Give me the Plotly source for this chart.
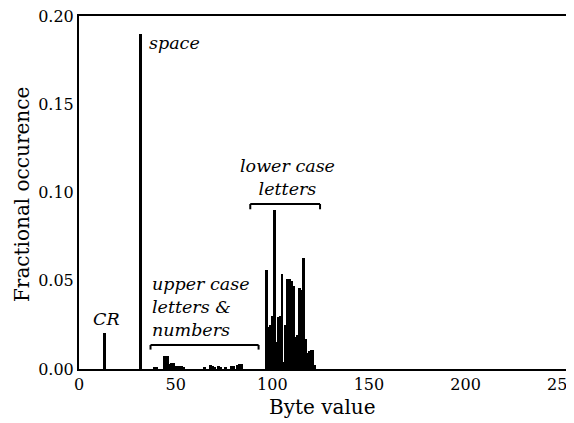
import plotly.graph_objects as go

# Byte values with non-zero occurrence and their fractional occurrence
ctrl_bytes = [13]
ctrl_freq = [0.0202]

space_bytes = [32]
space_freq = [0.190]

upper_bytes = [39, 40, 44, 45, 46, 47, 48, 49, 50, 51, 52, 53, 54,
               65, 68, 69, 70, 72, 73, 76, 79, 80, 82, 83, 84]
upper_freq = [0.0012, 0.0008, 0.0075, 0.0072, 0.0075, 0.0030, 0.0036, 0.0034,
              0.0018, 0.0017, 0.0016, 0.0015, 0.0010,
              0.0012, 0.0020, 0.0015, 0.0012, 0.0015, 0.0012, 0.0008,
              0.0018, 0.0015, 0.0022, 0.0028, 0.0030]

lower_bytes = list(range(97, 123))
lower_freq = [0.056, 0.024, 0.025, 0.030, 0.090, 0.0155, 0.0296, 0.030,
              0.054, 0.004, 0.025, 0.051, 0.051, 0.050, 0.047, 0.018,
              0.019, 0.046, 0.045, 0.063, 0.017, 0.009, 0.010, 0.011,
              0.011, 0.002]

x_ticks = [0, 50, 100, 150, 200, 250]
y_ticks = [0.00, 0.05, 0.10, 0.15, 0.20]

xs = ctrl_bytes + space_bytes + upper_bytes + lower_bytes
ys = ctrl_freq + space_freq + upper_freq + lower_freq

fig = go.Figure()
fig.add_trace(go.Bar(x=xs, y=ys, width=1.5,
                     marker=dict(color="black", line=dict(width=0)),
                     showlegend=False))

serif = "DejaVu Serif"
ann_font = dict(family=serif, size=17.5, color="black")
title_font = dict(family=serif, size=20, color="black")
tick_font = dict(family=serif, size=16, color="black")

annotations = [
    dict(x=14.2, y=0.0283, text="<i>CR</i>", xanchor="center", yanchor="middle"),
    dict(x=35.4, y=0.1847, text="<i>space</i>", xanchor="left", yanchor="middle"),
    dict(x=36.9, y=0.0351, text="<i>upper case<br>letters &amp;<br>numbers</i>",
         xanchor="left", yanchor="middle", align="left"),
    dict(x=107.7, y=0.1085, text="<i>lower case<br>letters</i>",
         xanchor="center", yanchor="middle", align="center"),
]
for a in annotations:
    a.update(showarrow=False, font=ann_font, xref="x", yref="y")

# axis titles
annotations += [
    dict(x=0.495, y=-0.108, xref="paper", yref="paper", text="Byte value",
         showarrow=False, font=title_font, xanchor="center", yanchor="middle"),
    dict(x=-0.116, y=0.493, xref="paper", yref="paper", text="Fractional occurence",
         showarrow=False, font=title_font, xanchor="center", yanchor="middle",
         textangle=-90),
]

line = dict(color="black", width=2)
shapes = [
    # lower case bracket
    dict(type="line", x0=88.6, x1=124.7, y0=0.0935, y1=0.0935, line=line),
    dict(type="line", x0=88.6, x1=88.6, y0=0.0935, y1=0.0905, line=line),
    dict(type="line", x0=124.7, x1=124.7, y0=0.0935, y1=0.0905, line=line),
    # upper case bracket
    dict(type="line", x0=37.0, x1=92.9, y0=0.0136, y1=0.0136, line=line),
    dict(type="line", x0=37.0, x1=37.0, y0=0.0136, y1=0.0110, line=line),
    dict(type="line", x0=92.9, x1=92.9, y0=0.0136, y1=0.0110, line=line),
]
for s in shapes:
    s.update(xref="x", yref="y")

# page body has an 8px margin, so the figure is shifted by 8px;
# size and margins compensate so the plot box lands where the reference has it
fig.update_layout(
    width=566, height=415,
    margin=dict(l=71, r=4, t=8, b=54, autoexpand=False),
    paper_bgcolor="white", plot_bgcolor="white",
    bargap=0,
    annotations=annotations,
    shapes=shapes,
    font=dict(family=serif, color="black"),
)
fig.update_xaxes(range=[0, 254], tickvals=x_ticks, ticktext=[str(v) for v in x_ticks],
                 showgrid=False, zeroline=False, showline=True, mirror=True,
                 linecolor="black", linewidth=2, ticks="", automargin=False,
                 ticklabeloverflow="allow", tickfont=tick_font)
fig.update_yaxes(range=[0, 0.2], tickvals=y_ticks, ticktext=[f"{v:.2f}" for v in y_ticks],
                 showgrid=False, zeroline=False, showline=True, mirror=True,
                 linecolor="black", linewidth=2, ticks="", automargin=False,
                 ticklabeloverflow="allow", tickfont=tick_font)

fig.write_html("out.html")
